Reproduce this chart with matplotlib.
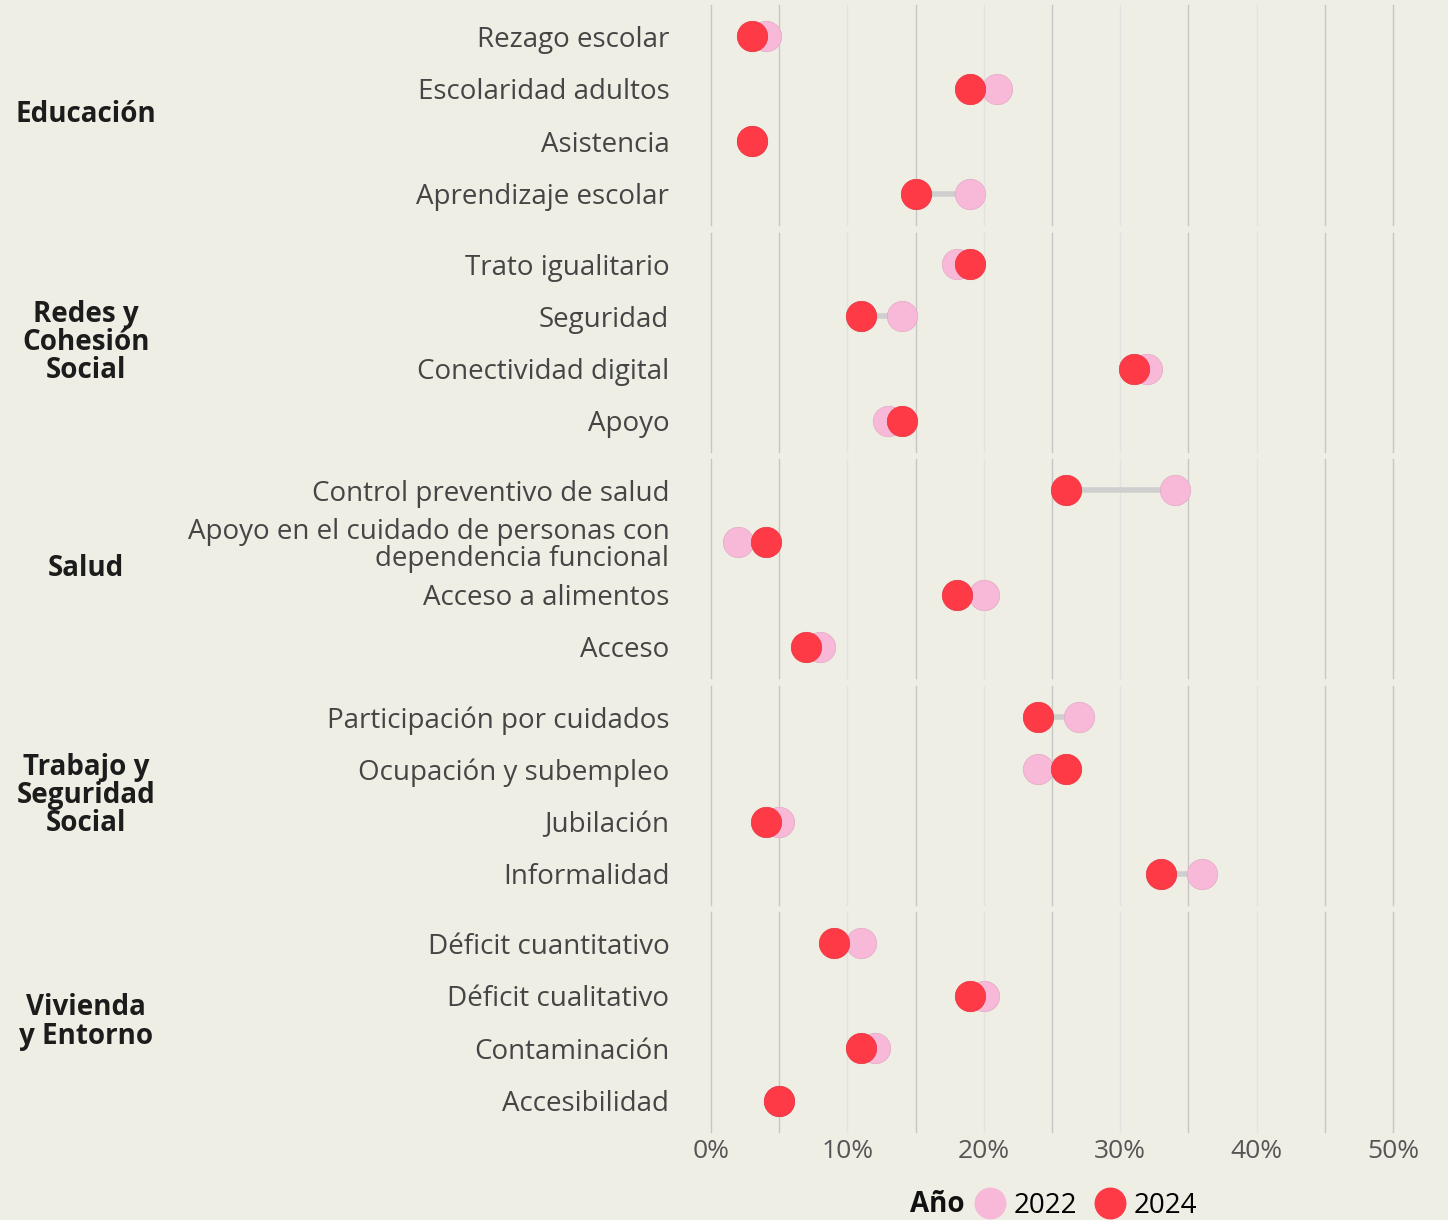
import matplotlib.pyplot as plt
from matplotlib.lines import Line2D

W, H = 1448, 1220
bg = '#efeee4'
c22 = '#f8b9d9'
c24 = '#ff3a47'
line_c = '#cfcfcf'
grid_dark = '#c6c6c6'
grid_light = '#e2e2e0'
label_c = '#454545'
group_c = '#1c1c1c'

plt.rcParams['font.family'] = ['Open Sans', 'DejaVu Sans']

groups = ['Educación', 'Redes y\nCohesión\nSocial', 'Salud',
          'Trabajo y\nSeguridad\nSocial', 'Vivienda\ny Entorno']
indicators = [
    ['Rezago escolar', 'Escolaridad adultos', 'Asistencia', 'Aprendizaje escolar'],
    ['Trato igualitario', 'Seguridad', 'Conectividad digital', 'Apoyo'],
    ['Control preventivo de salud',
     'Apoyo en el cuidado de personas con\ndependencia funcional',
     'Acceso a alimentos', 'Acceso'],
    ['Participación por cuidados', 'Ocupación y subempleo', 'Jubilación', 'Informalidad'],
    ['Déficit cuantitativo', 'Déficit cualitativo', 'Contaminación', 'Accesibilidad'],
]
v2022 = [
    [4, 21, 3, 19],
    [18, 14, 32, 13],
    [34, 2, 20, 8],
    [27, 24, 5, 36],
    [11, 20, 12, 5],
]
v2024 = [
    [3, 19, 3, 15],
    [19, 11, 31, 14],
    [26, 4, 18, 7],
    [24, 26, 4, 33],
    [9, 19, 11, 5],
]

fig = plt.figure(figsize=(W / 100, H / 100), dpi=100)
fig.patch.set_facecolor(bg)

x0, x1 = 711, 1393
panels = [(5, 225), (233, 452), (459, 678), (686, 905), (912, 1132)]

for gi, (top, bot) in enumerate(panels):
    ax = fig.add_axes([x0 / W, 1 - bot / H, (x1 - x0) / W, (bot - top) / H])
    ax.set_facecolor(bg)
    for s in ax.spines.values():
        s.set_visible(False)
    ax.set_xlim(0, 50)
    ax.set_ylim(3.6, -0.6)
    for xv in range(0, 55, 5):
        col = grid_dark if (xv % 10 == 5 or xv in (0, 50)) else grid_light
        ax.axvline(xv, color=col, lw=1.0, zorder=0, clip_on=False)
    ys = list(range(len(indicators[gi])))
    for y, a, b in zip(ys, v2022[gi], v2024[gi]):
        ax.plot([a, b], [y, y], color=line_c, lw=4, zorder=1, solid_capstyle='butt')
    ax.scatter(v2022[gi], ys, s=480, color=c22, edgecolor='#e2a8c4', lw=0.5,
               zorder=2, clip_on=False)
    ax.scatter(v2024[gi], ys, s=480, color=c24, edgecolor='#e8303c', lw=0.5,
               zorder=3, clip_on=False)
    ax.set_yticks(ys)
    ax.set_yticklabels(indicators[gi], fontsize=20, color=label_c,
                       linespacing=0.95)
    ax.tick_params(axis='y', length=0, pad=30)
    if gi == len(panels) - 1:
        ax.set_xticks(range(0, 60, 10))
        ax.set_xticklabels([f'{v}%' for v in range(0, 60, 10)], fontsize=19,
                           color='#555555')
        ax.tick_params(axis='x', length=0, pad=5)
    else:
        ax.set_xticks([])
    fig.text(86 / W, 1 - (top + bot) / 2 / H, groups[gi], ha='center', va='center',
             fontsize=20, fontweight='bold', color=group_c, linespacing=0.97)

# legend
fig.text(937 / W, 1 - 1205 / H, 'Año', ha='center', va='center',
         fontsize=20, fontweight='bold', color='#111111')
handles = [Line2D([], [], marker='o', ls='', markersize=22, color=c22, label='2022'),
           Line2D([], [], marker='o', ls='', markersize=22, color=c24, label='2024')]
fig.legend(handles=handles, ncol=2, frameon=False, fontsize=20,
           loc='center left', bbox_to_anchor=(976 / W, 1 - 1206 / H),
           handletextpad=0.35, columnspacing=0.7, handlelength=1.0,
           borderaxespad=0, borderpad=0)

fig.savefig('out.png', dpi=100, facecolor=bg)
